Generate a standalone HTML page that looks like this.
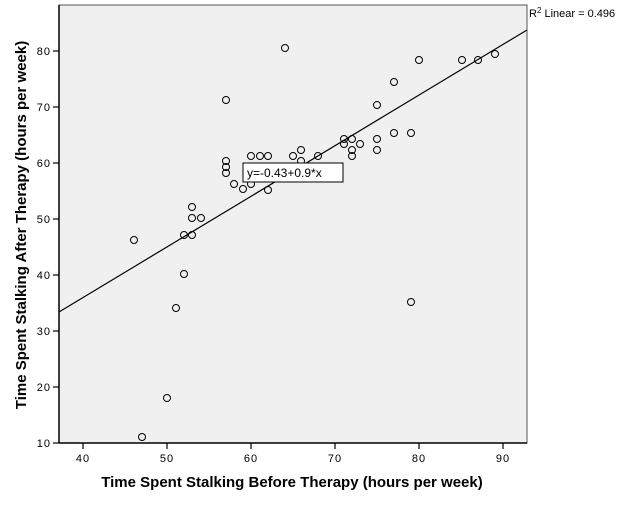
<!DOCTYPE html>
<html><head><style>body{margin:0;background:#fff}</style></head><body>
<svg width="625" height="500" xmlns="http://www.w3.org/2000/svg" font-family="Liberation Sans, sans-serif">
<rect x="59" y="5" width="468" height="438" fill="#f0f0f0" stroke="#555" stroke-width="1"/>
<line x1="59" y1="5" x2="59" y2="443" stroke="#000" stroke-width="1.5"/>
<line x1="59" y1="443" x2="527" y2="443" stroke="#000" stroke-width="1.5"/>
<g stroke="#000" stroke-width="1.2">
<line x1="83" y1="443" x2="83" y2="449"/><line x1="167" y1="443" x2="167" y2="449"/><line x1="251" y1="443" x2="251" y2="449"/><line x1="335" y1="443" x2="335" y2="449"/><line x1="419" y1="443" x2="419" y2="449"/><line x1="503" y1="443" x2="503" y2="449"/>
<line x1="53" y1="443" x2="59" y2="443"/><line x1="53" y1="387" x2="59" y2="387"/><line x1="53" y1="331" x2="59" y2="331"/><line x1="53" y1="275" x2="59" y2="275"/><line x1="53" y1="219" x2="59" y2="219"/><line x1="53" y1="163" x2="59" y2="163"/><line x1="53" y1="107" x2="59" y2="107"/><line x1="53" y1="51" x2="59" y2="51"/>
</g>
<g font-size="11" fill="#000" text-anchor="middle" letter-spacing="1">
<text x="83" y="462">40</text><text x="167" y="462">50</text><text x="251" y="462">60</text><text x="335" y="462">70</text><text x="419" y="462">80</text><text x="503" y="462">90</text>
</g>
<g font-size="11" fill="#000" text-anchor="end" letter-spacing="1">
<text x="51" y="447">10</text><text x="51" y="391">20</text><text x="51" y="335">30</text><text x="51" y="279">40</text><text x="51" y="223">50</text><text x="51" y="167">60</text><text x="51" y="111">70</text><text x="51" y="55">80</text>
</g>
<text x="292" y="487" font-size="15" font-weight="bold" text-anchor="middle">Time Spent Stalking Before Therapy (hours per week)</text>
<text transform="translate(26,225) rotate(-90)" font-size="15" font-weight="bold" text-anchor="middle">Time Spent Stalking After Therapy (hours per week)</text>
<line x1="59" y1="312" x2="527" y2="30" stroke="#000" stroke-width="1.2"/>
<g fill="none" stroke="#000" stroke-width="1">
<circle cx="134" cy="240" r="3.5"/><circle cx="142" cy="437" r="3.5"/><circle cx="167" cy="398" r="3.5"/><circle cx="176" cy="308" r="3.5"/><circle cx="184" cy="274" r="3.5"/><circle cx="184" cy="235" r="3.5"/><circle cx="192" cy="235" r="3.5"/><circle cx="192" cy="207" r="3.5"/><circle cx="192" cy="218" r="3.5"/><circle cx="201" cy="218" r="3.5"/><circle cx="226" cy="167" r="3.5"/><circle cx="226" cy="173" r="3.5"/><circle cx="226" cy="161" r="3.5"/><circle cx="226" cy="100" r="3.5"/><circle cx="234" cy="184" r="3.5"/><circle cx="243" cy="189" r="3.5"/><circle cx="251" cy="156" r="3.5"/><circle cx="251" cy="184" r="3.5"/><circle cx="260" cy="156" r="3.5"/><circle cx="268" cy="156" r="3.5"/><circle cx="268" cy="190" r="3.5"/><circle cx="285" cy="48" r="3.5"/><circle cx="293" cy="156" r="3.5"/><circle cx="301" cy="150" r="3.5"/><circle cx="301" cy="161" r="3.5"/><circle cx="310" cy="167" r="3.5"/><circle cx="318" cy="156" r="3.5"/><circle cx="335" cy="167" r="3.5"/><circle cx="344" cy="139" r="3.5"/><circle cx="344" cy="144" r="3.5"/><circle cx="352" cy="139" r="3.5"/><circle cx="352" cy="150" r="3.5"/><circle cx="352" cy="156" r="3.5"/><circle cx="360" cy="144" r="3.5"/><circle cx="377" cy="105" r="3.5"/><circle cx="377" cy="139" r="3.5"/><circle cx="377" cy="150" r="3.5"/><circle cx="394" cy="82" r="3.5"/><circle cx="394" cy="133" r="3.5"/><circle cx="411" cy="133" r="3.5"/><circle cx="411" cy="302" r="3.5"/><circle cx="419" cy="60" r="3.5"/><circle cx="462" cy="60" r="3.5"/><circle cx="478" cy="60" r="3.5"/><circle cx="495" cy="54" r="3.5"/>
</g>
<rect x="243" y="163" width="100" height="19" fill="#fff" stroke="#000" stroke-width="1"/>
<text x="247" y="177" font-size="12">y=-0.43+0.9*x</text>
<text x="529" y="17" font-size="11">R<tspan font-size="8" dy="-4">2</tspan><tspan dy="4"> Linear = 0.496</tspan></text>
</svg>
</body></html>
